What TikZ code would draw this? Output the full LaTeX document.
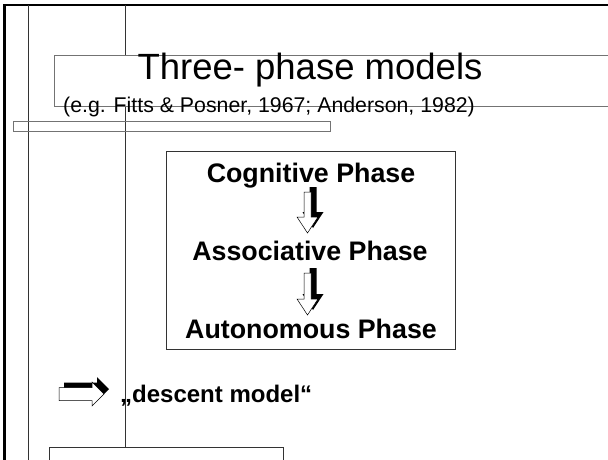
\documentclass[tikz,border=0pt]{standalone}
\usepackage{fontspec}
\setmainfont{Liberation Sans}
\tikzset{
  thinline/.style={line width=0.7pt,draw=black!80},
  greyline/.style={line width=0.8pt,draw=black!55},
  phase/.style={inner sep=0pt,anchor=base,font=\fontsize{26.8}{30}\selectfont\bfseries},
  pics/dnarrow/.style={code={
    \fill[black,shift={(5.5,-5)}](-3.5,0)--(3.5,0)--(3.5,#1-16)--(10.5,#1-16)--(0,#1)--(-10.5,#1-16)--(-3.5,#1-16)--cycle;
    \filldraw[fill=white,draw=black,line width=0.5pt](-3.5,0)--(3.5,0)--(3.5,#1-16)--(10.5,#1-16)--(0,#1)--(-10.5,#1-16)--(-3.5,#1-16)--cycle;
  }},
  pics/rtarrow/.style={code={
    \fill[black,shift={(5,-5)}](0,-6.5)--(#1-12,-6.5)--(#1-12,-12)--(#1,0)--(#1-12,12)--(#1-12,6.5)--(0,6.5)--cycle;
    \filldraw[fill=white,draw=black,line width=0.5pt](0,-6.5)--(#1-12,-6.5)--(#1-12,-12)--(#1,0)--(#1-12,12)--(#1-12,6.5)--(0,6.5)--cycle;
  }}
}
\begin{document}
\begin{tikzpicture}[x=1pt,y=-1pt]
\useasboundingbox(0,0)rectangle(608,459);
% frame and guide lines
\draw[line width=2.4pt](4.5,465)--(4.5,5)--(615,5);
\draw[thinline](28,5)--(28,465);
\draw[thinline](125,5)--(125,447);
\filldraw[greyline,fill=white](54,55)rectangle(615,106);
\draw[greyline](13,121)rectangle(330,131);
\draw[thinline](166,151)rectangle(455,349);
\draw[thinline](49,447)rectangle(283,470);
% title
\node[inner sep=0pt,anchor=base,font=\fontsize{36.5}{40}\selectfont](title)at(310,79){Three- phase models};
\node[inner sep=0pt,anchor=base west,font=\fontsize{21.3}{24}\selectfont](cite)at(63,112.5){(e.g. Fitts \& Posner, 1967; Anderson, 1982)};
% phases
\node[phase](cog)at(311,182){Cognitive Phase};
\node[phase](ass)at(310,260){Associative Phase};
\node[phase](aut)at(311,338){Autonomous Phase};
\pic at(307.5,192){dnarrow=41};
\pic at(307.5,273){dnarrow=42};
% descent
\pic at(59,394){rtarrow=45};
\node[inner sep=0pt,anchor=base west,font=\fontsize{24}{28}\selectfont\bfseries](desc)at(120,402){„descent model“};
\end{tikzpicture}
\end{document}
